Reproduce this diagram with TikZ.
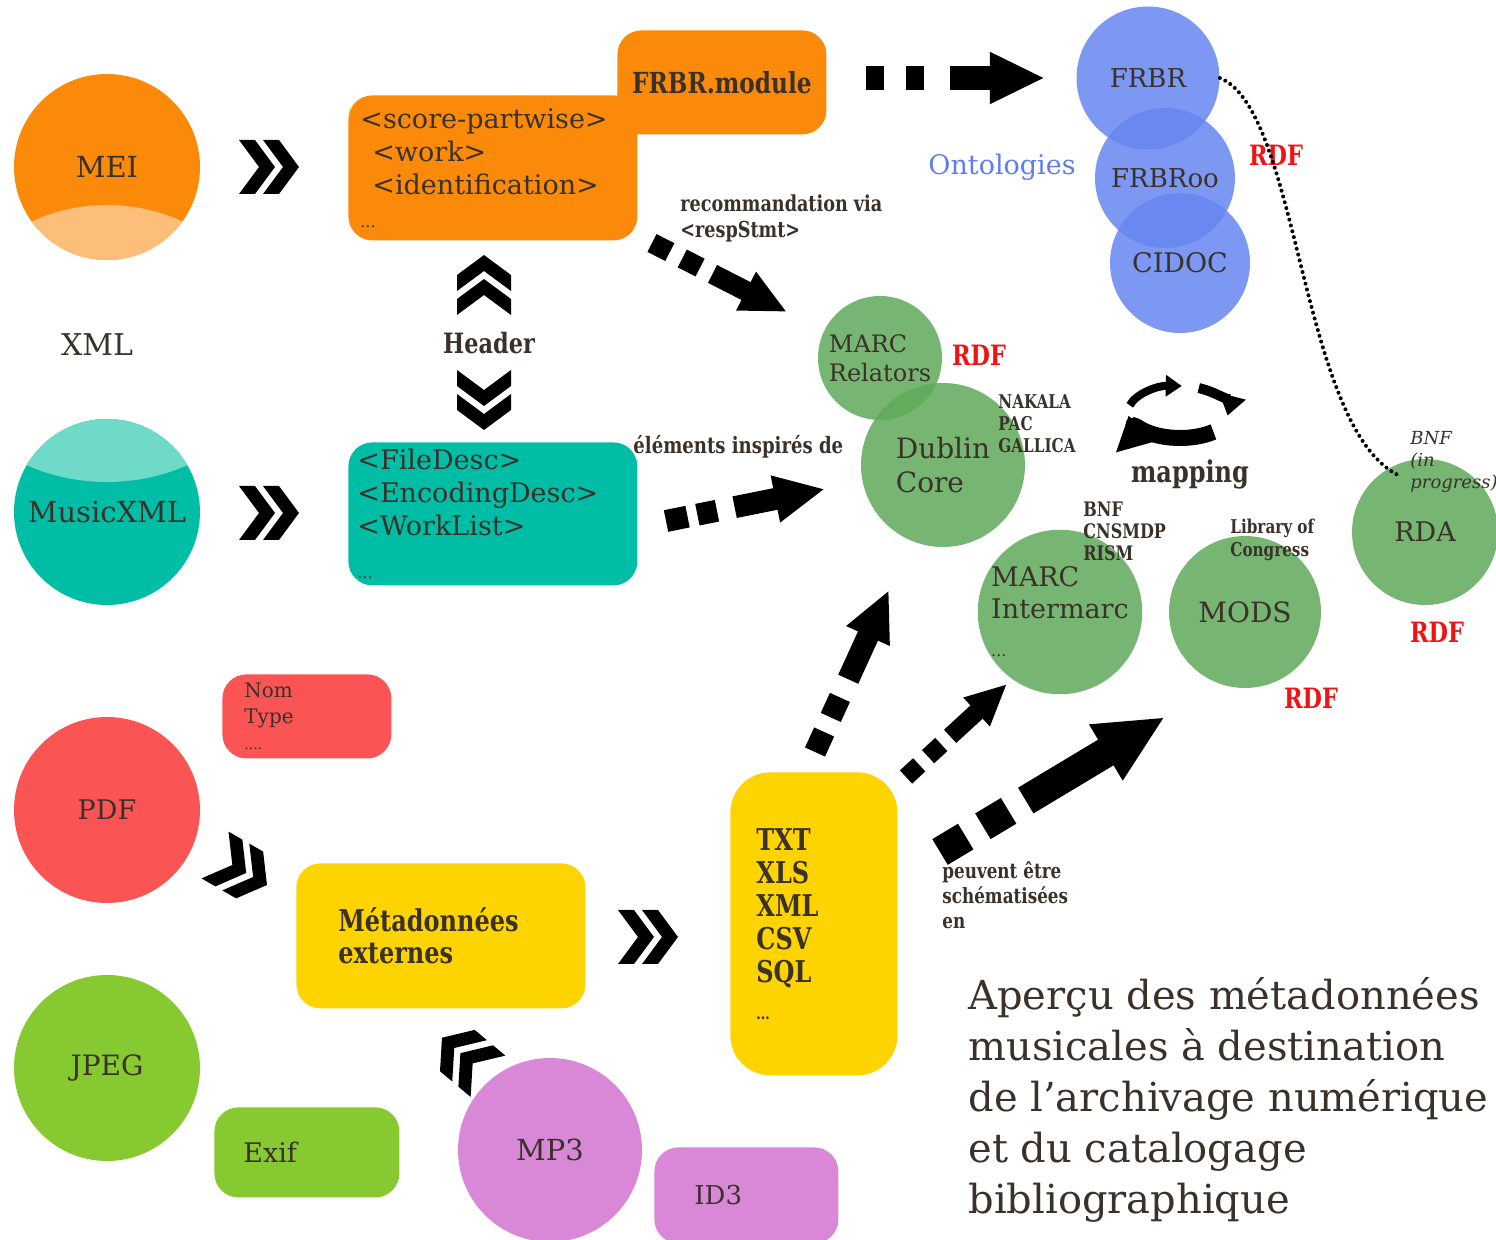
\documentclass[tikz,border=0pt]{standalone}
\usepackage{fontspec}
\setmainfont{DejaVu Serif}
\newfontfamily\narrowfont{DejaVu Serif}[FakeStretch=0.8]
\usetikzlibrary{arrows.meta}
\usetikzlibrary{positioning}

\definecolor{txtc}{RGB}{58,50,42}
\definecolor{meiorange}{RGB}{251,138,10}
\definecolor{meilight}{RGB}{253,190,122}
\definecolor{xmlteal}{RGB}{0,190,165}
\definecolor{xmllight}{RGB}{112,218,200}
\definecolor{pdfred}{RGB}{250,84,84}
\definecolor{jpggreen}{RGB}{135,201,48}
\definecolor{mppink}{RGB}{217,136,216}
\definecolor{metayellow}{RGB}{254,212,0}
\definecolor{ontoblue}{RGB}{102,134,240}
\definecolor{ontotext}{RGB}{95,125,240}
\definecolor{marcgreen}{RGB}{95,169,89}
\definecolor{rdfred}{RGB}{238,20,20}

\tikzset{
disc/.style={ % round formats and schemas
circle, minimum size=93pt, inner sep=0pt, text=txtc},
ontodisc/.style={disc, fill=ontoblue, fill opacity=0.85, text opacity=1},
marcdisc/.style={disc, fill=marcgreen, fill opacity=0.85, text opacity=1},
box/.style={ % rounded boxes, text set from the left
rounded corners=12pt, inner sep=0pt, text=txtc, align=left, anchor=north west},
lbl/.style={text=txtc, inner sep=0pt},
smallbold/.style={lbl, align=left, anchor=west,
font=\narrowfont\bfseries\fontsize{10}{11}\selectfont},
rdflbl/.style={text=rdfred, inner sep=0pt,
font=\narrowfont\bfseries\fontsize{14}{16}\selectfont},
dasharrow/.style={ % thick black arrow, dashes given where used
draw=black, line width=#1, -{Triangle[length=0pt 2.3, width=0pt 2]}},
cycarrow/.style={draw=black, line width=#1, -{Triangle[length=0pt 2, width=0pt 2.6]}},
dchev/.pic={ % double chevron pointing right
\fill[black] (-30,-27) -- (-14,-27) -- (6,0) -- (-14,27) -- (-30,27) -- (-10,0) -- cycle;
\fill[black] (-6,-27) -- (10,-27) -- (30,0) -- (10,27) -- (-6,27) -- (14,0) -- cycle;
}}

\begin{document}
\begin{tikzpicture}[x=0.5pt, y=-0.5pt]
\useasboundingbox (0,0) rectangle (1496,1240);

% sources
\node[disc, fill=meiorange, font=\fontsize{14.5}{17}\selectfont] (mei) at (107,167) {MEI};
\begin{scope}
\clip (mei.center) circle[radius=93];
\fill[meilight] (107,385) circle[radius=180];
\end{scope}
\node[lbl, font=\fontsize{15}{17}\selectfont] (xml) at (97,345) {XML};
\node[disc, fill=xmlteal, font=\fontsize{14.5}{17}\selectfont] (musicxml) at (107,512) {MusicXML};
\begin{scope}
\clip (musicxml.center) circle[radius=93];
\fill[xmllight] (107,282) circle[radius=200];
\end{scope}
\node[disc, fill=pdfred, font=\fontsize{13.5}{16}\selectfont] (pdf) at (107,810) {PDF};
\node[disc, fill=jpggreen, font=\fontsize{14}{16}\selectfont] (jpeg) at (107,1068) {JPEG};
\node[disc, fill=mppink, minimum size=92pt, font=\fontsize{14.5}{17}\selectfont] (mp3) at (550,1150) {MP3};

% boxes
\node[box, fill=meiorange, minimum width=144.5pt, minimum height=72.5pt, text width=132.5pt,
inner xsep=6pt, font=\fontsize{13.5}{16.5}\selectfont] (scorebox) at (348,95)
{<score-partwise>\\\hspace*{6pt}<work>\\\hspace*{6pt}<identification>\\[0pt]{\fontsize{8}{9}\selectfont ...}};
\node[box, fill=meiorange, minimum width=104.5pt, minimum height=52pt, align=center,
font=\narrowfont\bfseries\fontsize{14.5}{17}\selectfont] (frbrmod) at (617,30) {FRBR.module};
\node[box, fill=xmlteal, minimum width=144.5pt, minimum height=71.5pt, text width=135.5pt,
inner xsep=4.5pt, font=\fontsize{13.5}{16.5}\selectfont] (teibox) at (348,442)
{<FileDesc>\\<EncodingDesc>\\<WorkList>\\[5pt]{\fontsize{8}{9}\selectfont ...}};
\node[box, fill=pdfred, minimum width=84.5pt, minimum height=42pt, text width=62.5pt,
inner xsep=11pt, font=\fontsize{10}{13}\selectfont] (nombox) at (222,674)
{Nom\\Type\\{\fontsize{7}{9}\selectfont ....}};
\node[box, fill=metayellow, minimum width=144.5pt, minimum height=72.5pt, text width=102.5pt,
inner xsep=21pt, font=\narrowfont\bfseries\fontsize{15}{16}\selectfont] (metabox) at (296,863)
{Métadonnées\\externes};
\node[box, fill=metayellow, rounded corners=20pt, minimum width=83.5pt, minimum height=151.5pt,
text width=57.5pt, inner xsep=13pt, font=\narrowfont\bfseries\fontsize{15}{16.5}\selectfont] (fmtbox) at (730,772)
{TXT\\XLS\\XML\\CSV\\SQL\\[2pt]{\fontsize{8}{9}\selectfont ...}};
\node[box, fill=jpggreen, minimum width=92.5pt, minimum height=45pt, text width=63.5pt,
inner xsep=14.5pt, font=\fontsize{13.5}{16}\selectfont] (exifbox) at (214,1107) {Exif};
\node[box, fill=mppink, minimum width=92pt, minimum height=48pt, text width=52pt,
inner xsep=20pt, font=\fontsize{13}{16}\selectfont] (id3box) at (654,1147) {ID3};

% ontologies
\node[ontodisc, minimum size=71.5pt, font=\fontsize{13}{16}\selectfont] (frbr) at (1148,78) {FRBR};
\node[ontodisc, minimum size=70pt, font=\fontsize{13}{16}\selectfont] (frbroo) at (1165,178) {FRBRoo};
\node[ontodisc, minimum size=70pt, font=\fontsize{13.5}{16}\selectfont] (cidoc) at (1180,263) {CIDOC};
\node[lbl, text=ontotext, font=\fontsize{13.5}{16}\selectfont] (onto) at (1002,167) {Ontologies};
\node[rdflbl] (rdfa) at (1276,155) {RDF};

% schemas
\node[marcdisc, minimum size=62pt, align=left, font=\fontsize{12}{14.5}\selectfont] (marcrel) at (880,358) {MARC\\Relators};
\node[marcdisc, minimum size=82pt, align=left, font=\fontsize{14}{17}\selectfont] (dublin) at (943,465) {Dublin\\Core};
\node[rdflbl] (rdfb) at (979,355) {RDF};
\node[smallbold, font=\narrowfont\bfseries\fontsize{9.5}{11}\selectfont] (nakala) at (998,424) {NAKALA\\PAC\\GALLICA};
\node[marcdisc, minimum size=75pt, align=left, font=\fontsize{13.5}{16}\selectfont] (intermarc) at (1060,612)
{MARC\\Intermarc\\[3pt]{\fontsize{8}{9}\selectfont ...}};
\node[marcdisc, minimum size=76pt, font=\fontsize{14}{16}\selectfont] (mods) at (1245,612) {MODS};
\node[marcdisc, minimum size=73pt, font=\fontsize{13.5}{16}\selectfont] (rda) at (1425,532) {RDA};
\node[smallbold] (bnf) at (1083,531) {BNF\\CNSMDP\\RISM};
\node[smallbold, font=\narrowfont\bfseries\fontsize{9.5}{11.5}\selectfont] (loc) at (1230,540) {Library of\\Congress};
\node[lbl, align=left, anchor=west, font=\itshape\fontsize{9}{11}\selectfont] (bnfprog) at (1410,462) {BNF\\(in\\progress)};
\node[rdflbl] (rdfc) at (1311,698) {RDF};
\node[rdflbl] (rdfd) at (1437,632) {RDF};

% labels
\node[lbl, font=\narrowfont\bfseries\fontsize{14}{16}\selectfont] (header) at (489,343) {Header};
\node[smallbold, font=\narrowfont\bfseries\fontsize{11}{13}\selectfont] (reco) at (680,218) {recommandation via\\<respStmt>};
\node[smallbold, font=\narrowfont\bfseries\fontsize{11.3}{13}\selectfont] (elem) at (633,447) {éléments inspirés de};
\node[lbl, font=\narrowfont\bfseries\fontsize{15}{17}\selectfont] (mapping) at (1190,474) {mapping};
\node[smallbold, font=\narrowfont\bfseries\fontsize{10.5}{12.5}\selectfont] (peuv) at (942,895) {peuvent être\\schématisées\\en};
\node[lbl, align=left, anchor=west, font=\fontsize{20}{25.5}\selectfont] (titre) at (968,1100)
{Aperçu des métadonnées\\musicales à destination\\de l'archivage numérique\\et du catalogage\\bibliographique};

% chevrons
\pic (cmei) at (269,167) {dchev};
\pic (cxml) at (269,513) {dchev};
\pic[rotate=90] (chup) at (484,285) {dchev};
\pic[rotate=-90] (chdown) at (484,400) {dchev};
\pic[rotate=-30] (cpdf) at (241,870) {dchev};
\pic[rotate=140] (cmp3) at (465,1057) {dchev};
\pic (cmeta) at (648,937) {dchev};

% dashed arrows
\coordinate (frbrA) at (866,78);
\coordinate (frbrB) at (1045,78);
\coordinate (recoA) at (652,243);
\coordinate (recoB) at (787,312);
\coordinate (teiA) at (666,521);
\coordinate (teiB) at (825,489);
\coordinate (upA) at (815,752);
\coordinate (upB) at (889,590);
\coordinate (imA) at (906,777);
\coordinate (imB) at (1007,684);
\coordinate (modsA) at (940,852);
\coordinate (modsB) at (1165,717);
\draw[dasharrow=12pt, dash pattern=on 9pt off 11pt on 9pt off 13pt on 400pt] (frbrA) -- (frbrB);
\draw[dasharrow=10pt, dash pattern=on 10pt off 7pt on 10pt off 7pt on 400pt] (recoA) -- (recoB);
\draw[dasharrow=11pt, dash pattern=on 11pt off 5pt on 10pt off 9pt on 400pt] (teiA) -- (teiB);
\draw[dasharrow=11pt, dash pattern=on 11pt off 8pt on 11pt off 10pt on 400pt] (upA) -- (upB);
\draw[dasharrow=9pt, dash pattern=on 9pt off 6pt on 9pt off 6pt on 400pt] (imA) -- (imB);
\draw[dasharrow=15pt, dash pattern=on 15pt off 10pt on 15pt off 10pt on 400pt] (modsA) -- (modsB);

% mapping cycle
\coordinate (mapc) at (1180,412);
\draw[cycarrow=4pt] ([shift={(195:52 and 26)}]mapc) arc[start angle=195, end angle=272, x radius=52, y radius=26];
\draw[cycarrow=5pt] ([shift={(293:48 and 26)}]mapc) arc[start angle=293, end angle=368, x radius=48, y radius=26];
\draw[cycarrow=8pt] ([shift={(50:52 and 26)}]mapc) arc[start angle=50, end angle=172, x radius=52, y radius=26];

% FRBR to RDA
\coordinate (rdadot) at (1400,476);
\draw[line width=2pt, line cap=round, dash pattern=on 0pt off 3pt] (frbr.east) .. controls (1300,110) and (1300,430) .. (rdadot);
\end{tikzpicture}
\end{document}
